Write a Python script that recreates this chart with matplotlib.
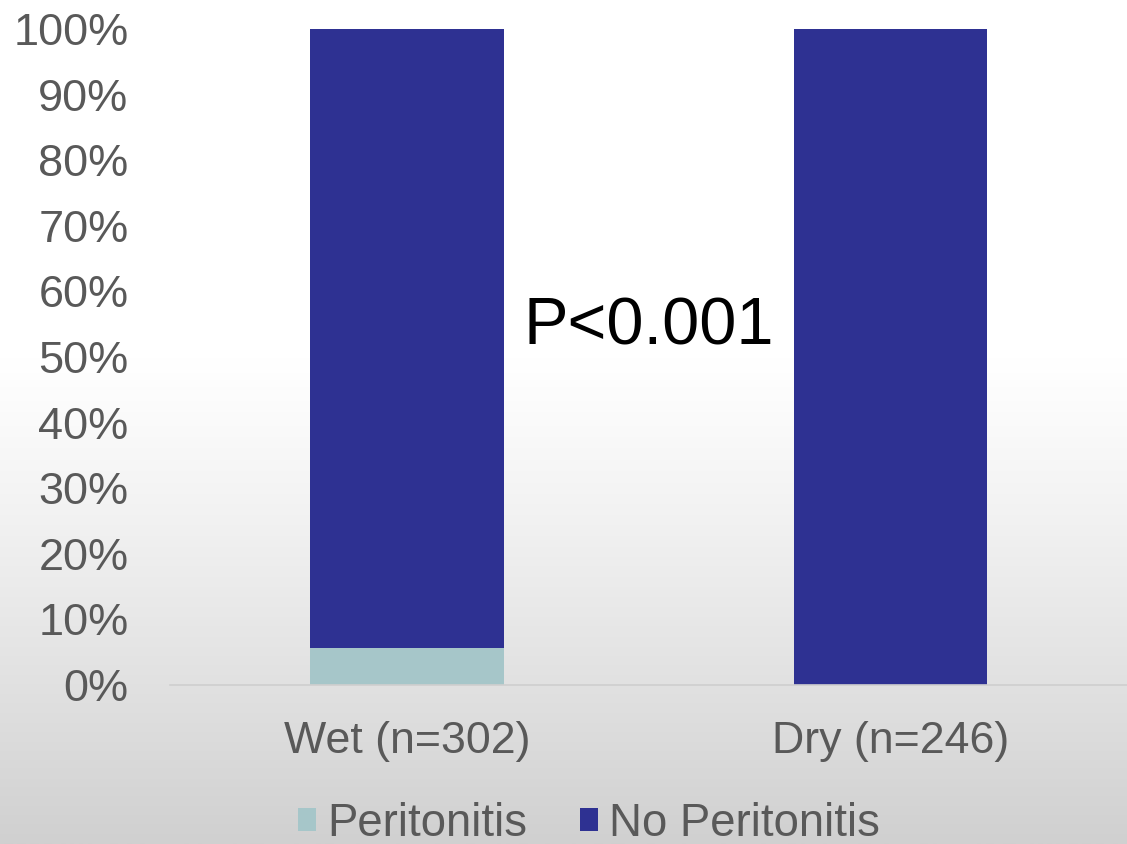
import numpy as np
import matplotlib
matplotlib.use("Agg")
import matplotlib.pyplot as plt
from matplotlib.colors import LinearSegmentedColormap

plt.rcParams['font.family'] = ['Liberation Sans', 'DejaVu Sans']

# Data
groups = ["Wet (n=302)", "Dry (n=246)"]
peritonitis = [5.6, 0.0]          # percent
no_peritonitis = [94.4, 100.0]    # percent
series_labels = ["Peritonitis", "No Peritonitis"]
p_text = "P<0.001"

c_perit = "#a6c6c9"
c_noperit = "#2e3192"
text_gray = "#595959"

fig = plt.figure(figsize=(11.27, 8.44), dpi=100)

# Background: white at the top fading to light grey at the bottom
bg = fig.add_axes([0, 0, 1, 1], zorder=-10)
n = 400
frac = np.linspace(0, 1, n)  # 0 = top, 1 = bottom
shade = np.where(frac < 0.42, 0.0, ((frac - 0.42) / 0.58) ** 1.15)
bg_cmap = LinearSegmentedColormap.from_list("bg", ["#ffffff", "#d0d0d0"])
bg.imshow(shade[:, None], aspect="auto", cmap=bg_cmap, vmin=0, vmax=1,
          extent=[0, 1, 0, 1], origin="upper")
bg.set_axis_off()

ax = fig.add_axes([0.151, 0.1884, 0.849, 0.7772])
ax.set_facecolor("none")

x = np.arange(len(groups))
vals_p = np.array(peritonitis) / 100
vals_n = np.array(no_peritonitis) / 100
ax.bar(x, vals_p, width=0.4, color=c_perit, label=series_labels[0])
ax.bar(x, vals_n, width=0.4, bottom=vals_p, color=c_noperit, label=series_labels[1])

ax.set_xlim(-0.49, 1.49)
ax.set_ylim(0, 1)
ax.set_yticks(np.linspace(0, 1, 11))
ax.set_yticklabels([f"{int(round(v * 100))}%" for v in np.linspace(0, 1, 11)])
ax.set_xticks(x)
ax.set_xticklabels(groups)

for s in ["top", "right", "left"]:
    ax.spines[s].set_visible(False)
ax.spines["bottom"].set_color("#cfcfcf")
ax.spines["bottom"].set_linewidth(1.2)
ax.tick_params(axis="both", length=0, labelcolor=text_gray)
ax.tick_params(axis="y", labelsize=32.5, pad=30)
ax.tick_params(axis="x", labelsize=32.2, pad=26)

ax.text(0.5, 0.545, p_text, ha="center", va="center", fontsize=48, color="#000000")

leg = fig.legend(loc="center", bbox_to_anchor=(0.5226, 0.024), ncol=2, frameon=False,
                 fontsize=32.8, handlelength=0.4, handleheight=0.4, handletextpad=0.25,
                 columnspacing=1.15, labelcolor=text_gray)

fig.savefig("out.png", dpi=100)
